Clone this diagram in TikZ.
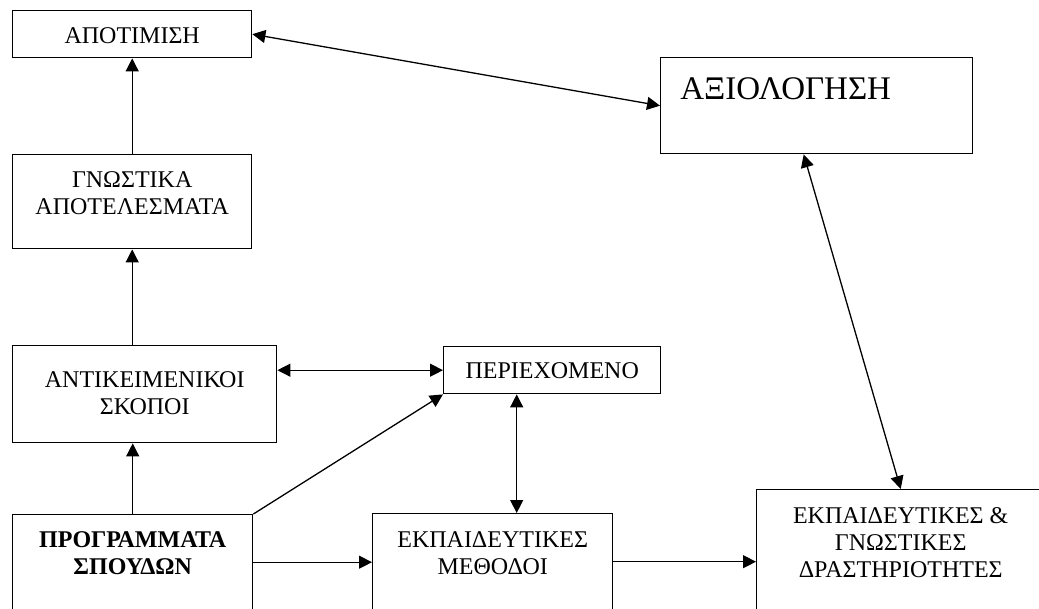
\documentclass[tikz,border=0pt]{standalone}
\usepackage{fontspec}
\setmainfont{Liberation Serif}
\usepackage{tikz}
\usetikzlibrary{arrows.meta,positioning}

\tikzset{
    blk/.style={draw, line width=0.7pt, inner sep=0pt, anchor=north west},
    txt/.style={inner sep=0pt, align=center, font=\fontsize{12pt}{13.5pt}\selectfont},
    lnk/.style={line width=0.65pt},
    >={Triangle[length=6.5pt,width=6.5pt]}
}

\begin{document}
\begin{tikzpicture}[x=0.5pt, y=-0.5pt]
        \useasboundingbox (0,0) rectangle (1039,609);
        % boxes
        \node[blk, minimum width=119.5pt, minimum height=23.5pt] (apot) at (12,10) {};
        \node[blk, minimum width=119.5pt, minimum height=47pt] (gnost) at (12,154) {};
        \node[blk, minimum width=132pt, minimum height=48.5pt] (antik) at (12,345) {};
        \node[blk, minimum width=120pt, minimum height=47.5pt] (progr) at (12,514) {};
        \node[blk, minimum width=108.5pt, minimum height=23.5pt] (perie) at (443,346) {};
        \node[blk, minimum width=120pt, minimum height=48pt] (meth) at (372,513) {};
        \node[blk, minimum width=156pt, minimum height=48pt] (axiol) at (660,57) {};
        \node[blk, minimum width=144pt, minimum height=60pt] (drast) at (756,489) {};
        % texts
        \node[txt, below=8.6pt of apot.north] (apotT) {ΑΠΟΤΙΜΙΣΗ};
        \node[txt, below=8.6pt of gnost.north] (gnostT) {ΓΝΩΣΤΙΚΑ\\ΑΠΟΤΕΛΕΣΜΑΤΑ};
        \node[txt, below=13pt of antik.north] (antikT) {ΑΝΤΙΚΕΙΜΕΝΙΚΟΙ\\ΣΚΟΠΟΙ};
        \node[txt, below=8.6pt of progr.north] (progrT) {\bfseries ΠΡΟΓΡΑΜΜΑΤΑ\\\bfseries ΣΠΟΥΔΩΝ};
        \node[txt, below=8.2pt of perie.north] (perieT) {ΠΕΡΙΕΧΟΜΕΝΟ};
        \node[txt, below=9pt of meth.north] (methT) {ΕΚΠΑΙΔΕΥΤΙΚΕΣ\\ΜΕΘΟΔΟΙ};
        \node[txt, below=9pt of drast.north] (drastT) {ΕΚΠΑΙΔΕΥΤΙΚΕΣ \&\\ΓΝΩΣΤΙΚΕΣ\\ΔΡΑΣΤΗΡΙΟΤΗΤΕΣ};
        \node[txt, font=\fontsize{16.5pt}{20pt}\selectfont, below right=10pt and 10pt of axiol.north west] (axiolT) {ΑΞΙΟΛΟΓΗΣΗ};
        % arrows
        \draw[lnk,->] (gnost.north) -- (apot.south);
        \draw[lnk,->] (gnost.south |- antik.north) -- (gnost.south);
        \draw[lnk,->] (progr.north) -- (progr.north |- antik.south);
        \draw[lnk,<->] (antik.east |- perie.west) -- (perie.west);
        \draw[lnk,->] (progr.north east) -- (perie.south west);
        \draw[lnk,<->] ([xshift=-17.75pt]perie.south) -- ([xshift=-17.75pt]perie.south |- meth.north);
        \draw[lnk,->] (progr.east) -- (progr.east -| meth.west);
        \draw[lnk,->] (meth.east) -- (meth.east -| drast.west);
        \draw[lnk,<->] (apot.east) -- (axiol.west);
        \draw[lnk,<->] ([xshift=-6.5pt]axiol.south) -- (drast.north);
    \end{tikzpicture}
\end{document}
